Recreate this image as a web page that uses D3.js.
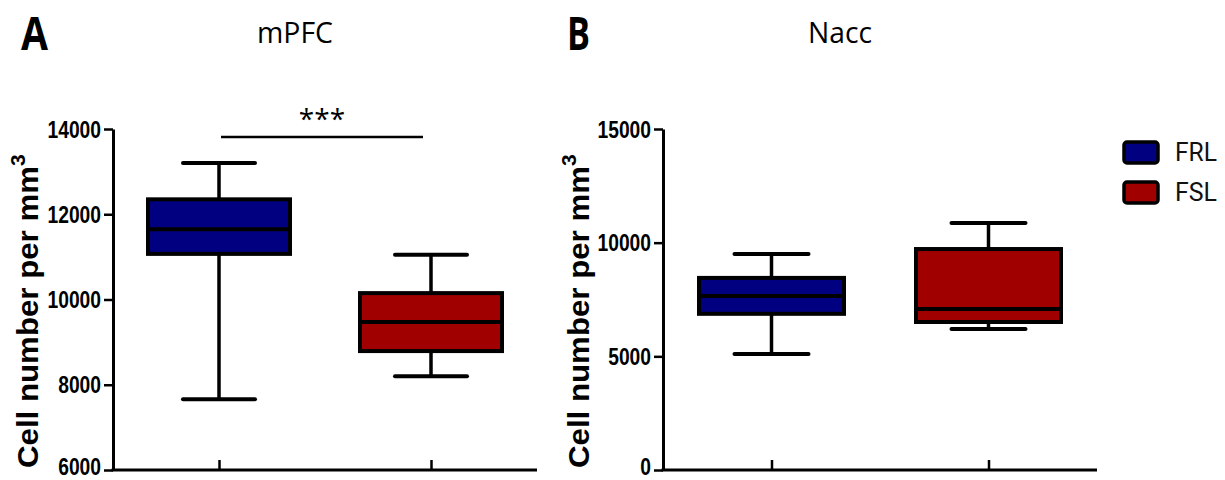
<!DOCTYPE html>
<html>
<head>
<meta charset="utf-8">
<script src="https://cdn.jsdelivr.net/npm/d3@7"></script>
<style>
  html, body { margin: 0; padding: 0; background: #fff; }
  svg { display: block; }
</style>
</head>
<body>
<svg id="chart" width="1225" height="480"></svg>
<script>
// ---- data ----
const groups = ["FRL", "FSL"];
const colors = ["#000080", "#a00000"];
// [min, q1, median, q3, max]
const mPFC_FRL = [7660, 11070, 11650, 12350, 13200];
const mPFC_FSL = [8200, 8790, 9470, 10150, 11050];
const nacc_FRL = [5100, 6870, 7650, 8450, 9500];
const nacc_FSL = [6200, 6510, 7080, 9720, 10870];
const mPFC_ticks = [6000, 8000, 10000, 12000, 14000];
const nacc_ticks = [0, 5000, 10000, 15000];
const yLabel = "Cell number per mm";

const svg = d3.select("#chart");

function panel(opts) {
  const g = svg.append("g");
  const x = d3.scalePoint().domain(groups).range([opts.x0, opts.x1]).padding(0.5);
  const y = d3.scaleLinear().domain(opts.domain).range([opts.yb, opts.yt]);

  // y axis
  const ya = g.append("g").attr("transform", `translate(${opts.x0},0)`)
    .call(d3.axisLeft(y).tickValues(opts.ticks).tickSize(9).tickSizeOuter(0).tickPadding(3).tickFormat(d3.format("d")));
  ya.select(".domain").attr("stroke", "#000").attr("stroke-width", 3);
  ya.selectAll(".tick line").attr("stroke", "#000").attr("stroke-width", 2.5);
  ya.selectAll(".tick text")
    .attr("fill", "#000")
    .style("font-family", "'Liberation Sans', Arial, sans-serif")
    .style("font-weight", "bold")
    .style("font-size", "24px")
    .attr("dy", d => d === opts.domain[0] ? "0.2em" : "0.34em")
    .attr("textLength", d => String(d).length * 10.7)
    .attr("lengthAdjust", "spacingAndGlyphs");

  // x axis
  const xa = g.append("g").attr("transform", `translate(0,${opts.yb})`)
    .call(d3.axisBottom(x).tickSize(-10).tickSizeOuter(0).tickFormat(""));
  xa.select(".domain").attr("stroke", "#000").attr("stroke-width", 3)
    .attr("d", `M${opts.x0 - 1.5},0H${opts.x1}`);
  xa.selectAll(".tick line").attr("stroke", "#000").attr("stroke-width", 2.5);

  // boxes
  const boxW = opts.boxW, capW = opts.capW;
  opts.data.forEach((d, i) => {
    const cx = x(groups[i]);
    const bg = g.append("g");
    // whiskers
    bg.append("line").attr("x1", cx).attr("x2", cx).attr("y1", y(d[4])).attr("y2", y(d[3]))
      .attr("stroke", "#000").attr("stroke-width", 3.5);
    bg.append("line").attr("x1", cx).attr("x2", cx).attr("y1", y(d[1])).attr("y2", y(d[0]))
      .attr("stroke", "#000").attr("stroke-width", 3.5);
    [d[0], d[4]].forEach(v => {
      bg.append("line").attr("x1", cx - capW / 2).attr("x2", cx + capW / 2)
        .attr("y1", y(v)).attr("y2", y(v))
        .attr("stroke", "#000").attr("stroke-width", 4).attr("stroke-linecap", "round");
    });
    bg.append("rect").attr("x", cx - boxW / 2).attr("width", boxW)
      .attr("y", y(d[3])).attr("height", y(d[1]) - y(d[3]))
      .attr("fill", colors[i]).attr("stroke", "#000").attr("stroke-width", 4);
    bg.append("line").attr("x1", cx - boxW / 2).attr("x2", cx + boxW / 2)
      .attr("y1", y(d[2])).attr("y2", y(d[2]))
      .attr("stroke", "#000").attr("stroke-width", 4);
  });

  // y label
  const lx = opts.labelX, ly = opts.labelY;
  const t = g.append("text")
    .attr("transform", `translate(${lx},${ly}) rotate(-90)`)
    .attr("text-anchor", "start")
    .style("font-family", "'Liberation Sans', Arial, sans-serif")
    .style("font-weight", "bold")
    .style("font-size", "30px")
    .attr("fill", "#000");
  t.append("tspan").text(yLabel).attr("textLength", 302).attr("lengthAdjust", "spacingAndGlyphs");
  t.append("tspan").text("3").attr("dy", -13).style("font-size", "21px");

  // panel letter & title
  g.append("text").attr("x", opts.letterX).attr("y", 50).text(opts.letter)
    .style("font-family", "'Open Sans', sans-serif").style("font-weight", "bold")
    .style("font-size", "46px").attr("fill", "#000")
    .attr("textLength", opts.letterW).attr("lengthAdjust", "spacingAndGlyphs");
  g.append("text").attr("x", opts.titleX).attr("y", 43).text(opts.title)
    .style("font-family", "'Open Sans', sans-serif")
    .style("font-size", "29px").attr("fill", "#000")
    .attr("textLength", opts.titleW).attr("lengthAdjust", "spacingAndGlyphs");

  return { g, x, y };
}

const A = panel({
  x0: 113, x1: 537, yb: 470, yt: 129, domain: [6000, 14000], ticks: mPFC_ticks,
  data: [mPFC_FRL, mPFC_FSL], boxW: 142, capW: 72,
  labelX: 38, labelY: 468, letter: "A", letterX: 21, letterW: 27,
  title: "mPFC", titleX: 257, titleW: 76
});
const B = panel({
  x0: 663, x1: 1097, yb: 470, yt: 129, domain: [0, 15000], ticks: nacc_ticks,
  data: [nacc_FRL, nacc_FSL], boxW: 145, capW: 74,
  labelX: 589, labelY: 468, letter: "B", letterX: 567, letterW: 23,
  title: "Nacc", titleX: 808, titleW: 64
});

// significance bar
const sigY = 137;
A.g.append("line").attr("x1", A.x("FRL") + 2).attr("x2", A.x("FSL") - 8)
  .attr("y1", sigY).attr("y2", sigY).attr("stroke", "#000").attr("stroke-width", 2.5);
A.g.append("text").attr("x", (A.x("FRL") + A.x("FSL")) / 2 - 3).attr("y", 129)
  .attr("text-anchor", "middle").text("***")
  .style("font-family", "'Open Sans', sans-serif").style("font-size", "28px").attr("fill", "#000");

// legend
const leg = svg.append("g");
groups.forEach((gname, i) => {
  const ly = 142 + i * 40;
  leg.append("rect").attr("x", 1124).attr("y", ly).attr("width", 34).attr("height", 21)
    .attr("rx", 3).attr("fill", colors[i]).attr("stroke", "#000").attr("stroke-width", 3.5);
  leg.append("text").attr("x", 1175).attr("y", ly + 19).text(gname)
    .style("font-family", "Roboto, 'Liberation Sans', sans-serif").style("font-size", "25px")
    .attr("fill", "#111").attr("textLength", 42).attr("lengthAdjust", "spacingAndGlyphs");
});
</script>
</body>
</html>
